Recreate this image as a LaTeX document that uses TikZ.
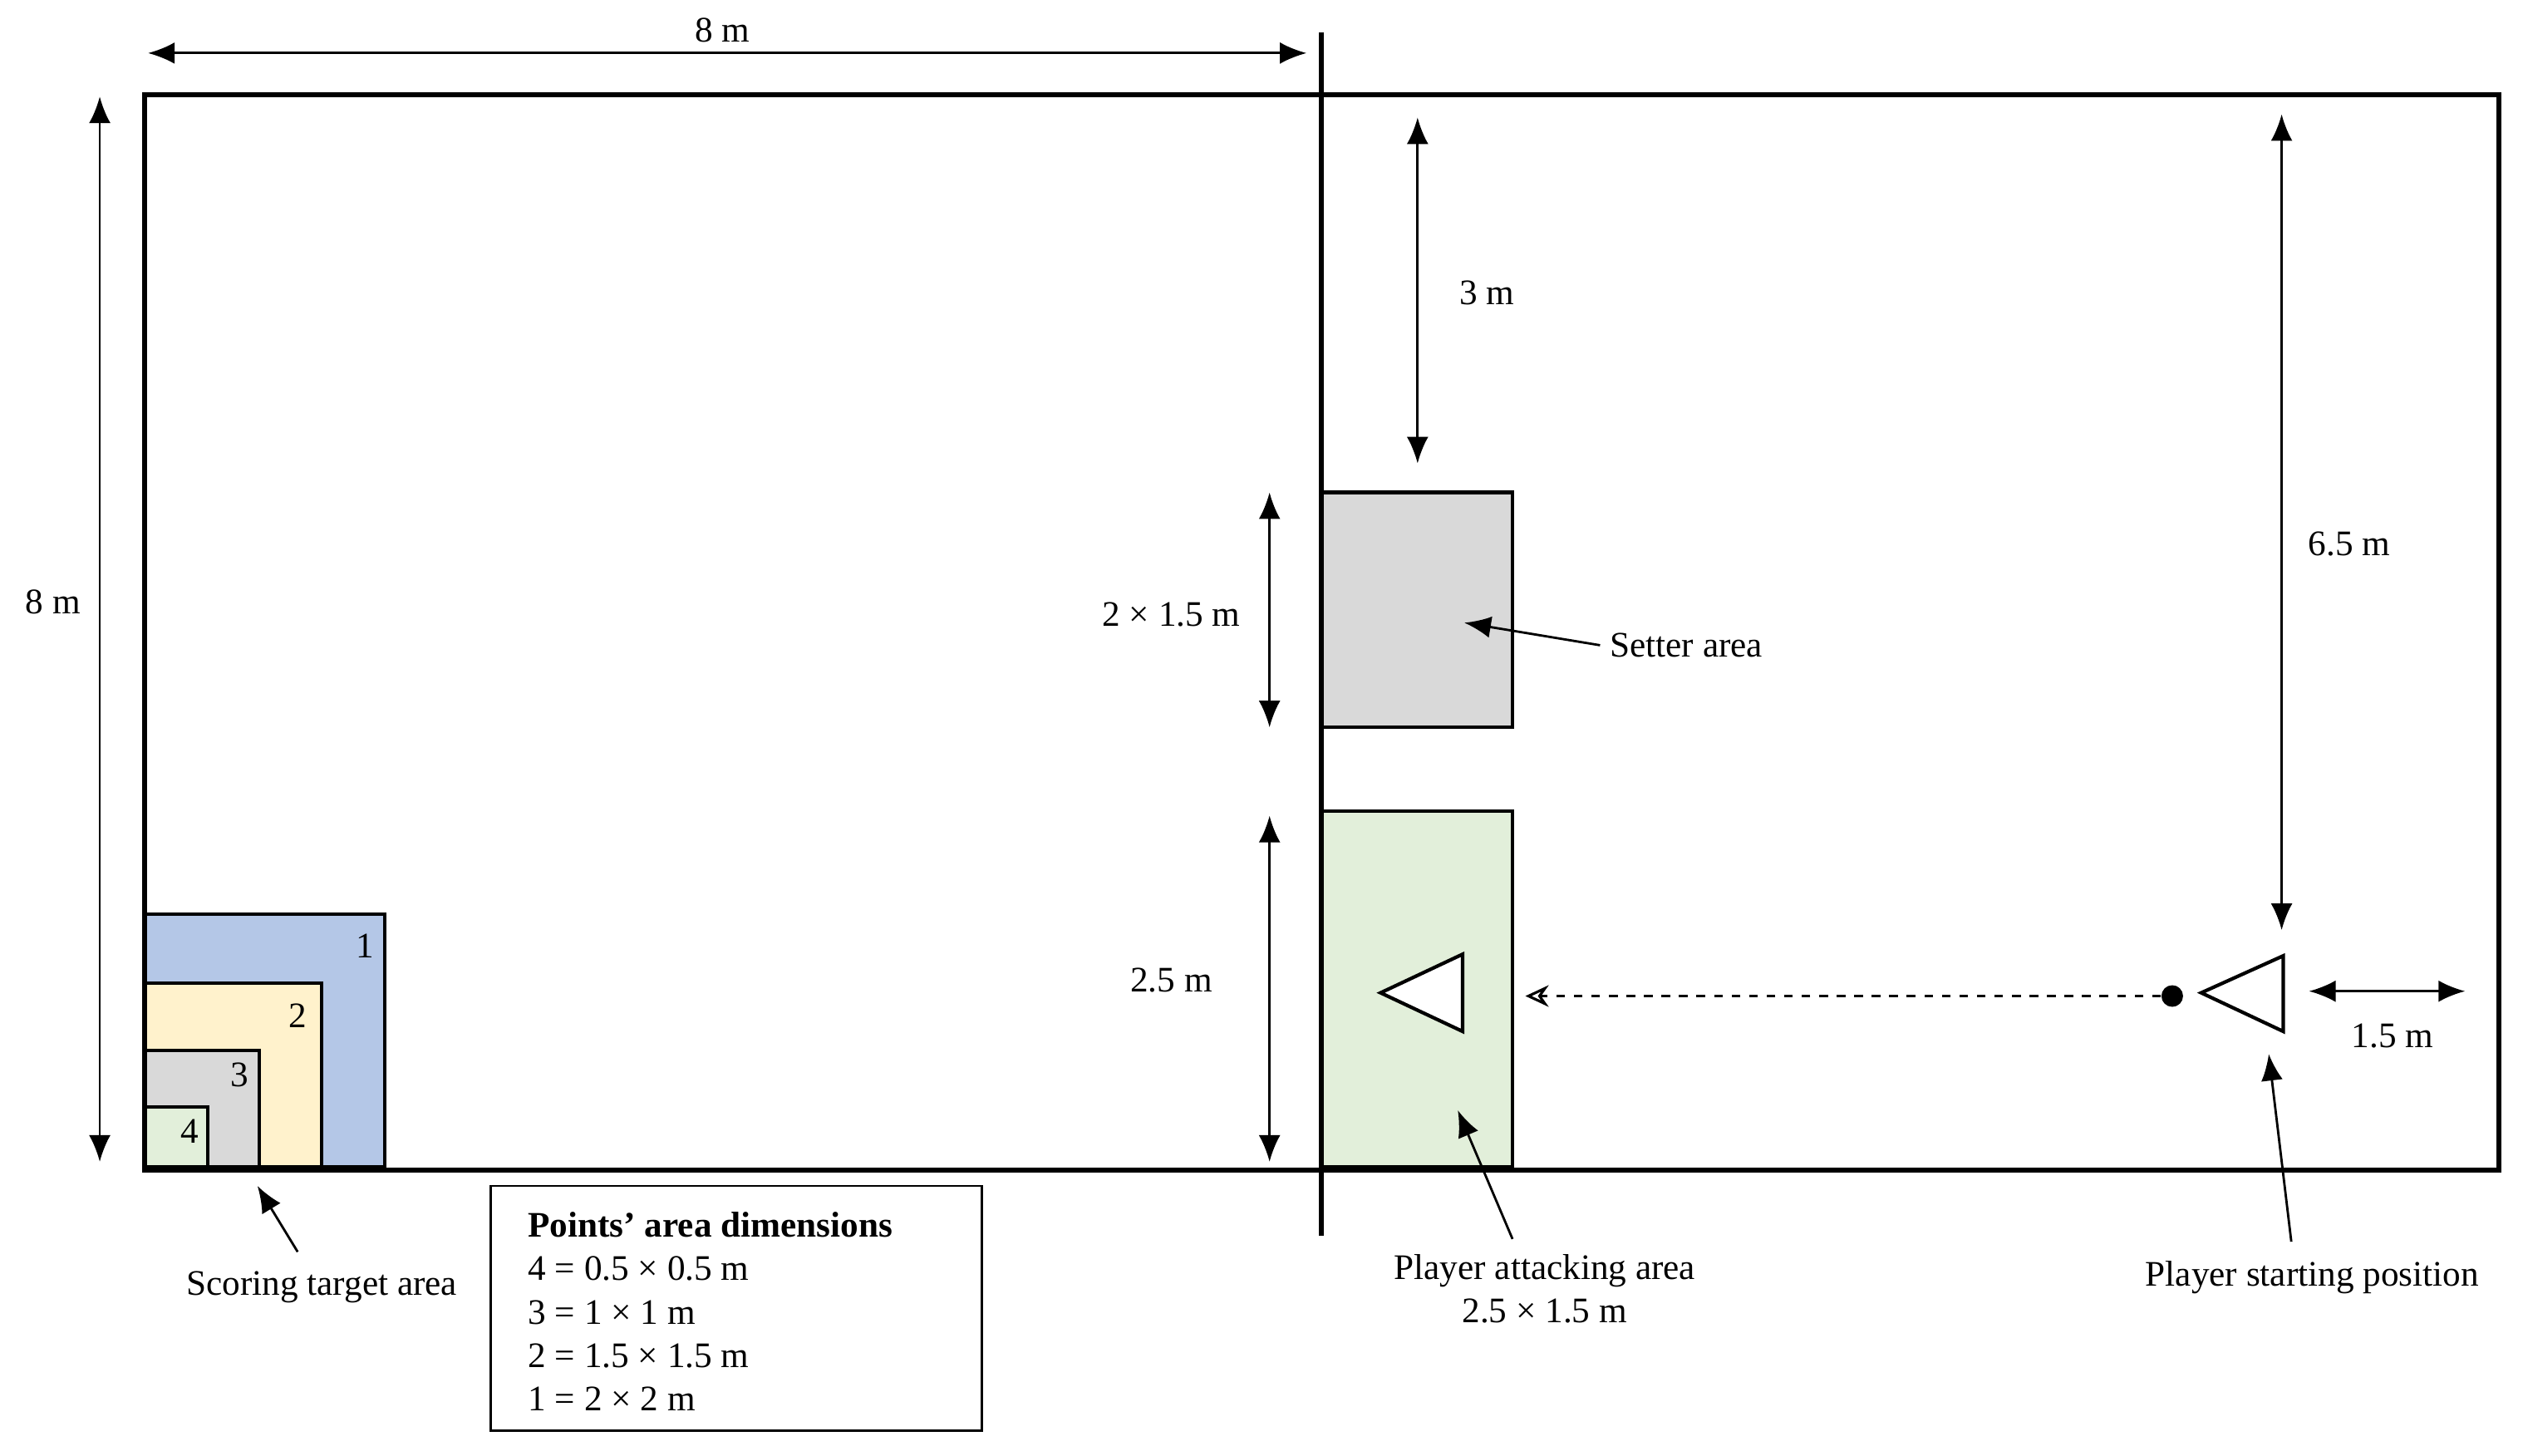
\documentclass[tikz,border=0pt]{standalone}
\usepackage{fontspec}
\setmainfont{Liberation Serif}
\usetikzlibrary{arrows.meta}
\definecolor{cblue}{HTML}{B4C7E7}
\definecolor{cyel}{HTML}{FFF2CC}
\definecolor{cgray}{HTML}{D9D9D9}
\definecolor{cgreen}{HTML}{E2EFDA}
\begin{document}
\begin{tikzpicture}[x=0.01936cm,y=-0.01936cm,
  lbl/.style={font=\fontsize{12.3}{15}\selectfont,inner sep=1pt},
  dim/.style={line width=0.8pt,{Latex[length=3.2mm,width=2.6mm]}-{Latex[length=3.2mm,width=2.6mm]}},
  ptr/.style={line width=0.8pt,-{Latex[length=3.2mm,width=2.6mm]}},
  box/.style={draw,line width=1.2pt},
  tri/.style={draw,line width=1.2pt,fill=white}]
\useasboundingbox (0,0) rectangle (1568,904.4);
% scoring squares
\draw[box,fill=cblue] (90,568) rectangle (239,725);
\draw[box,fill=cyel] (90,611) rectangle (200,725);
\draw[box,fill=cgray] (90,653) rectangle (161,725);
\draw[box,fill=cgreen] (90,688) rectangle (129,725);
\node[lbl] at (227,588) {1};
\node[lbl] at (185,631) {2};
\node[lbl] at (149,668) {3};
\node[lbl] at (118,703) {4};
% areas
\draw[box,fill=cgray] (821,306) rectangle (940,452);
\draw[box,fill=cgreen] (821,504) rectangle (940,725);
% court
\draw[line width=1.7pt] (90,59) rectangle (1553,727);
\draw[line width=1.7pt] (821,20) -- (821,768);
% dimensions
\coordinate (t1) at (92,33); \coordinate (t2) at (812,33);
\draw[dim] (t1) -- (t2); \node[lbl] at (449,19) {8 m};
\coordinate (l1) at (62,60); \coordinate (l2) at (62,722);
\draw[dim] (l1) -- (l2); \node[lbl] at (33,374) {8 m};
\coordinate (a1) at (881,73); \coordinate (a2) at (881,288);
\draw[dim] (a1) -- (a2); \node[lbl] at (924,182) {3 m};
\coordinate (b1) at (789,306); \coordinate (b2) at (789,452);
\draw[dim] (b1) -- (b2); \node[lbl] at (728,382) {2 × 1.5 m};
\coordinate (c1) at (789,507); \coordinate (c2) at (789,722);
\draw[dim] (c1) -- (c2); \node[lbl] at (728,609) {2.5 m};
\coordinate (d1) at (1418,71); \coordinate (d2) at (1418,578);
\draw[dim] (d1) -- (d2); \node[lbl] at (1460,338) {6.5 m};
\coordinate (e1) at (1435,616); \coordinate (e2) at (1532,616);
\draw[dim] (e1) -- (e2); \node[lbl] at (1487,644) {1.5 m};
% triangles
\draw[tri] (858,617) -- (909,593) -- (909,641) -- cycle;
\draw[tri] (1368,617) -- (1419,594) -- (1419,641) -- cycle;
\node[circle,fill,inner sep=0pt,minimum size=2.6mm] (dot) at (1350,619) {};
\coordinate (dend) at (948,619);
\draw[line width=0.9pt,dashed,-{Stealth[open,length=2.8mm,width=2.6mm]}] (dot) -- (dend);
% labels with pointers
\node[lbl] (set) at (1048,401) {Setter area};
\coordinate (setp) at (910,387);
\draw[ptr] (set.west) ++(-4,0) -- (setp);
\node[lbl,align=center] (att) at (960,801) {Player attacking area\\2.5 × 1.5 m};
\coordinate (attp) at (906,690);
\draw[ptr] (940,770) -- (attp);
\node[lbl] (start) at (1437,794) {Player starting position};
\coordinate (startp) at (1410,655);
\draw[ptr] (start.north) ++(-13,-10) -- (startp);
\node[lbl] (score) at (200,800) {Scoring target area};
\coordinate (scorep) at (160,737);
\draw[ptr] (185,778) -- (scorep);
% points box
\draw[line width=0.8pt] (305,737) rectangle (610,889);
\node[lbl,anchor=north west,align=left,font=\fontsize{12.3}{14.9}\selectfont] (pts) at (326,751)
 {\textbf{Points’ area dimensions}\\4 = 0.5 × 0.5 m\\3 = 1 × 1 m\\2 = 1.5 × 1.5 m\\1 = 2 × 2 m};
\end{tikzpicture}
\end{document}
